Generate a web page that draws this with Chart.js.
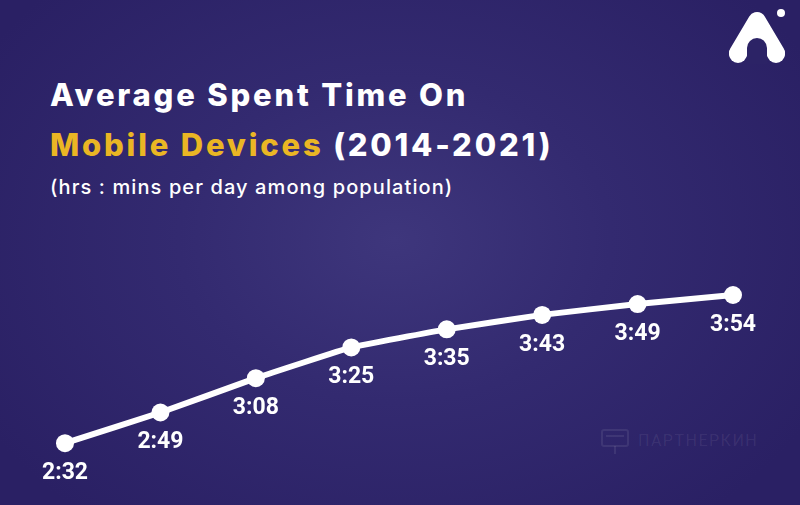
<!DOCTYPE html>
<html>
<head>
<meta charset="utf-8">
<script src="https://cdn.jsdelivr.net/npm/chart.js@4"></script>
<style>
    html, body { margin: 0; padding: 0; }
    body {
        width: 800px;
        height: 505px;
        overflow: hidden;
        background: radial-gradient(ellipse 480px 360px at 395px 240px, #3e367c 0%, #332a70 45%, #2a2064 100%);
        font-family: "Inter", "Open Sans", sans-serif;
    }
    #wrap { position: relative; width: 800px; height: 505px; }
    #chart { position: absolute; left: 0; top: 0; }
    .title {
        position: absolute;
        left: 50px;
        color: #ffffff;
        font-weight: 800;
        font-size: 31px;
        line-height: 1;
        white-space: nowrap;
        letter-spacing: 2.8px;
    }
    .title .hl { color: #eab624; }
    #t1 { top: 79px; }
    #t2 { top: 129px; }
    #sub {
        position: absolute;
        left: 50px;
        top: 177px;
        color: #ffffff;
        font-weight: 500;
        font-size: 20px;
        line-height: 1;
        white-space: nowrap;
        letter-spacing: 1.1px;
    }
    #watermark {
        position: absolute;
        left: 600px;
        top: 428px;
        color: rgba(255, 255, 255, 0.08);
        font-family: "Roboto", sans-serif;
        font-size: 16px;
        letter-spacing: 1.5px;
        white-space: nowrap;
    }
    #logo { position: absolute; left: 720px; top: 8px; }
</style>
</head>
<body>
<div id="wrap">
    <div class="title" id="t1">Average Spent Time On</div>
    <div class="title" id="t2"><span class="hl">Mobile Devices</span> (2014-2021)</div>
    <div id="sub">(hrs : mins per day among population)</div>
    <div id="watermark">
        <svg width="30" height="28" viewBox="0 0 30 28" style="vertical-align:middle;margin-right:8px">
            <rect x="2" y="2" width="26" height="16" rx="2" fill="none" stroke="rgba(255,255,255,0.08)" stroke-width="2"/>
            <line x1="6" y1="8" x2="24" y2="8" stroke="rgba(255,255,255,0.08)" stroke-width="2"/>
            <line x1="15" y1="18" x2="15" y2="26" stroke="rgba(255,255,255,0.08)" stroke-width="2"/>
        </svg>ПАРТНЕРКИН
    </div>
    <svg id="logo" width="72" height="58" viewBox="0 0 72 58">
        <path d="M18 45 L37 13 L56 45" fill="none" stroke="#ffffff" stroke-width="18" stroke-linejoin="round" stroke-linecap="round"/>
        <path d="M27 56 L27 40 A10 10 0 0 1 47 40 L47 56 Z" fill="#2c2366"/>
        <circle cx="18" cy="46" r="9" fill="#ffffff"/>
        <circle cx="56" cy="46" r="9" fill="#ffffff"/>
        <circle cx="61" cy="5" r="4" fill="#ffffff"/>
    </svg>
    <canvas id="chart" width="800" height="505"></canvas>
</div>
<script>
    const years = ['2014', '2015', '2016', '2017', '2018', '2019', '2020', '2021'];
    // minutes per day
    const minutesPerDay = [152, 169, 188, 205, 215, 223, 229, 234];
    const timeLabels = ['2:32', '2:49', '3:08', '3:25', '3:35', '3:43', '3:49', '3:54'];

    // draws the hh:mm label under every point
    const pointLabels = {
        id: 'pointLabels',
        afterDatasetsDraw(chart) {
            const ctx = chart.ctx;
            const meta = chart.getDatasetMeta(0);
            ctx.save();
            ctx.fillStyle = '#ffffff';
            ctx.font = 'bold 23px Roboto, sans-serif';
            ctx.textAlign = 'center';
            ctx.textBaseline = 'middle';
            meta.data.forEach((pt, i) => {
                ctx.fillText(timeLabels[i], pt.x, pt.y + 30);
            });
            ctx.restore();
        }
    };

    new Chart(document.getElementById('chart'), {
        type: 'line',
        data: {
            labels: years,
            datasets: [{
                data: minutesPerDay,
                borderColor: '#ffffff',
                borderWidth: 6,
                pointRadius: 9,
                pointBackgroundColor: '#ffffff',
                pointBorderWidth: 0,
                tension: 0.1,
                clip: false
            }]
        },
        options: {
            responsive: false,
            animation: false,
            layout: { padding: { left: 65, right: 67, top: 13, bottom: 22 } },
            plugins: {
                legend: { display: false },
                tooltip: { enabled: false }
            },
            scales: {
                x: { display: false, offset: false },
                y: { display: false, min: 130, max: 390 }
            }
        },
        plugins: [pointLabels]
    });
</script>
</body>
</html>
